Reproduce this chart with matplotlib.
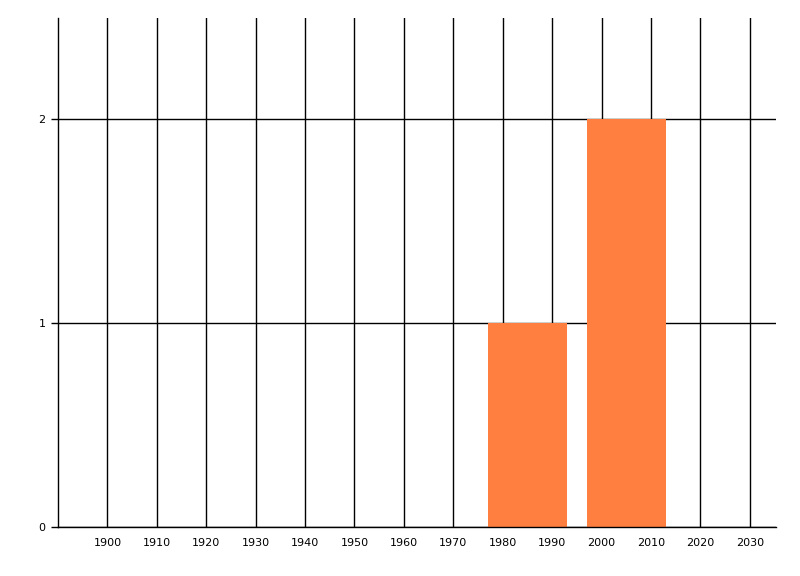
import matplotlib
matplotlib.use("Agg")
import matplotlib.pyplot as plt

# Data
bar_centers = [1985, 2005]
bar_heights = [1, 2]
bar_width = 16
x_ticks = [1900, 1910, 1920, 1930, 1940, 1950, 1960, 1970, 1980, 1990, 2000, 2010, 2020, 2030]
y_ticks = [0, 1, 2]

plt.rcParams['font.family'] = ['DejaVu Sans']
fig = plt.figure(figsize=(8, 5.76), dpi=100)
ax = fig.add_axes([0.0725, 0.0851, 0.8975, 0.88365])

ax.bar(bar_centers, bar_heights, width=bar_width, color='#FF7F41', zorder=3,
       linewidth=0)

ax.set_xlim(1890, 2035.3)
ax.set_ylim(0, 2.495)
ax.set_xticks(x_ticks)
ax.set_xticklabels([str(t) for t in x_ticks])
ax.set_yticks(y_ticks)
ax.set_yticklabels([str(t) for t in y_ticks])

ax.grid(True, color='black', linewidth=1, zorder=0)
ax.set_axisbelow(True)
for s in ['top', 'right']:
    ax.spines[s].set_visible(False)
for s in ['left', 'bottom']:
    ax.spines[s].set_linewidth(1)
    ax.spines[s].set_color('black')
    ax.spines[s].set_zorder(4)

ax.tick_params(axis='x', length=0, pad=8, labelsize=8, colors='black')
ax.tick_params(axis='y', length=5, width=1, pad=4, labelsize=8, colors='black')

fig.savefig('out.png', dpi=100)
